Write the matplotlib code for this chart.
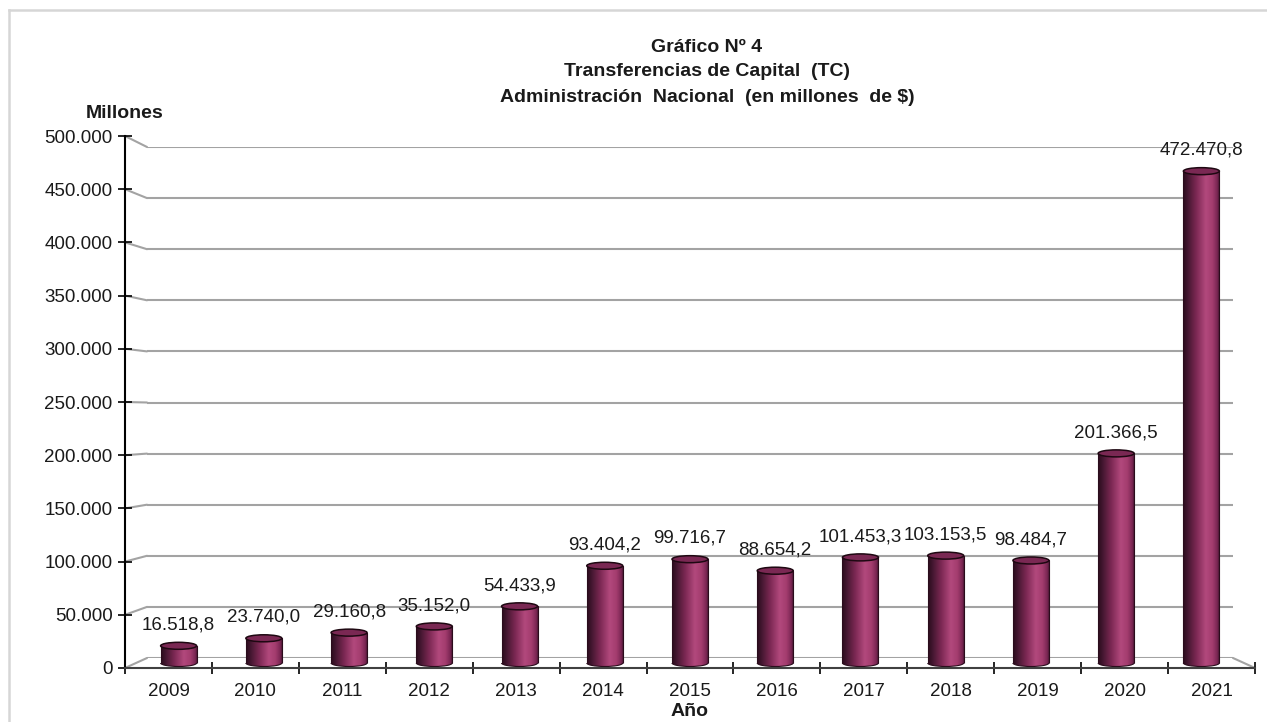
import numpy as np
import matplotlib
matplotlib.use("Agg")
import matplotlib.pyplot as plt
from matplotlib.patches import Ellipse, Arc, ConnectionPatch
from matplotlib.lines import Line2D
from matplotlib.colors import LinearSegmentedColormap

# ---------------- data ----------------
years = ["2009", "2010", "2011", "2012", "2013", "2014", "2015",
         "2016", "2017", "2018", "2019", "2020", "2021"]
values = [16518.8, 23740.0, 29160.8, 35152.0, 54433.9, 93404.2, 99716.7,
          88654.2, 101453.3, 103153.5, 98484.7, 201366.5, 472470.8]
y_ticks = [0, 50000, 100000, 150000, 200000, 250000, 300000,
           350000, 400000, 450000, 500000]
title_lines = ["Gráfico Nº 4", "Transferencias de Capital  (TC)",
               "Administración  Nacional  (en millones  de $)"]
y_title = "Millones"
x_title = "Año"

plt.rcParams['font.family'] = ['Liberation Sans', 'DejaVu Sans']
TXT = '#1a1a1a'
W, H = 1267, 722
fig = plt.figure(figsize=(W / 100, H / 100), dpi=100, facecolor='white')


def px_axes(x0, x1, y_top, y_bot, **kw):
    return fig.add_axes([x0 / W, (H - y_bot) / H, (x1 - x0) / W, (y_bot - y_top) / H], **kw)


n = len(years)
ymax = 500000

# back wall (gridlines)
back = px_axes(147, 1233, 147, 658)
back.set_xlim(-0.5, n - 0.5)
back.set_ylim(0, ymax)
back.axis('off')
for v in y_ticks:
    back.plot([-0.5, n - 0.5], [v, v], color='#a3a3a3', lw=1.5, solid_capstyle='butt')

# middle plane (bars)
ylow = -20000
mid = px_axes(136, 1244, 663 - 520.5, 663 + 20000 * 520.5 / 500000)
mid.set_xlim(-0.5, n - 0.5)
mid.set_ylim(ylow, ymax)
mid.axis('off')
mid.set_zorder(1)

cmap = LinearSegmentedColormap.from_list(
    'cyl', [(0.0, '#2a0c1c'), (0.12, '#42162f'), (0.35, '#7a2752'),
            (0.62, '#b2497d'), (0.8, '#a33c6e'), (0.93, '#7a2653'), (1.0, '#3a1128')])
grad = np.linspace(0, 1, 256)[None, :]

bw = 0.4224
eh = 7 * 500000 / 520.5  # ellipse height in data units (~7 px)
xs = np.arange(n)
bars = mid.bar(xs, values, width=bw, color='none', edgecolor='none')
for x, v, rect in zip(xs, values, bars):
    im = mid.imshow(grad, cmap=cmap, extent=[x - bw / 2, x + bw / 2, 0, v],
                    aspect='auto', interpolation='bilinear', zorder=2)
    im.set_clip_path(rect)
    e_bot = Ellipse((x, 0), bw, eh, facecolor='none', edgecolor='none')
    mid.add_patch(e_bot)
    im2 = mid.imshow(grad, cmap=cmap, extent=[x - bw / 2, x + bw / 2, -eh / 2, eh / 2],
                     aspect='auto', interpolation='bilinear', zorder=2)
    im2.set_clip_path(e_bot)
    mid.add_patch(Arc((x, 0), bw, eh, theta1=180, theta2=360,
                      edgecolor='#2a0c1c', lw=0.8, zorder=3))
    mid.vlines([x - bw / 2, x + bw / 2], 0, v, color='#2a0c1c', lw=0.8, zorder=3)
    mid.add_patch(Ellipse((x, v), bw, eh, facecolor='#7a2853',
                          edgecolor='#1e0812', lw=1.1, zorder=4))
    lab = f"{v:,.1f}".replace(',', 'X').replace('.', ',').replace('X', '.')
    mid.annotate(lab, (x, v), xytext=(0, 15), textcoords='offset points',
                 ha='center', va='center', fontsize=13.5, color=TXT, zorder=5)
mid.set_aspect('auto')
mid.set_xlim(-0.5, n - 0.5)
mid.set_ylim(ylow, ymax)

# front plane (axes)
front = px_axes(125, 1255, 136, 668)
front.set_zorder(2)
front.patch.set_alpha(0)
front.set_xlim(-0.5, n - 0.5)
front.set_ylim(0, ymax)
for s in ['top', 'right']:
    front.spines[s].set_visible(False)
front.spines['left'].set_color('black')
front.spines['left'].set_linewidth(1.5)
front.spines['bottom'].set_color('#404040')
front.spines['bottom'].set_linewidth(1.5)
front.set_yticks(y_ticks)
front.set_yticklabels([f"{v:,}".replace(',', '.') for v in y_ticks])
front.tick_params(axis='y', direction='inout', length=10, width=1.2,
                  labelsize=13.5, labelcolor=TXT, pad=4)
front.set_xticks(np.arange(-0.5, n, 1.0))
front.set_xticklabels([])
front.set_xticks(xs, minor=True)
front.set_xticklabels(years, minor=True)
front.tick_params(axis='x', which='major', direction='inout', length=9, width=1.2)
front.tick_params(axis='x', which='minor', length=0, labelsize=13.5,
                  labelcolor=TXT, pad=11)

# perspective connectors
for v in y_ticks:
    fig.add_artist(ConnectionPatch(xyA=(-0.5, v), coordsA=front.transData,
                                   xyB=(-0.5, v), coordsB=back.transData,
                                   color='#a3a3a3', lw=1.5))
fig.add_artist(ConnectionPatch(xyA=(n - 0.5, 0), coordsA=front.transData,
                               xyB=(n - 0.5, 0), coordsB=back.transData,
                               color='#a3a3a3', lw=1.5))

# titles
for txt, yp in zip(title_lines, [47, 71, 97]):
    fig.text(707 / W, 1 - yp / H, txt, ha='center', va='center',
             fontsize=14, fontweight='bold', color=TXT)
fig.text(125 / W, 1 - 113 / H, y_title, ha='center', va='center',
         fontsize=14, fontweight='bold', color=TXT)
fig.text(690 / W, 1 - 712 / H, x_title, ha='center', va='center',
         fontsize=14, fontweight='bold', color=TXT)

# outer border (left and top)
fig.add_artist(Line2D([9 / W, 9 / W], [0, 1 - 10 / H], color='#d6d6d6', lw=1.8,
                      transform=fig.transFigure))
fig.add_artist(Line2D([9 / W, 1], [1 - 10 / H, 1 - 10 / H], color='#d6d6d6', lw=1.8,
                      transform=fig.transFigure))

fig.savefig('out.png', dpi=100, facecolor='white')
